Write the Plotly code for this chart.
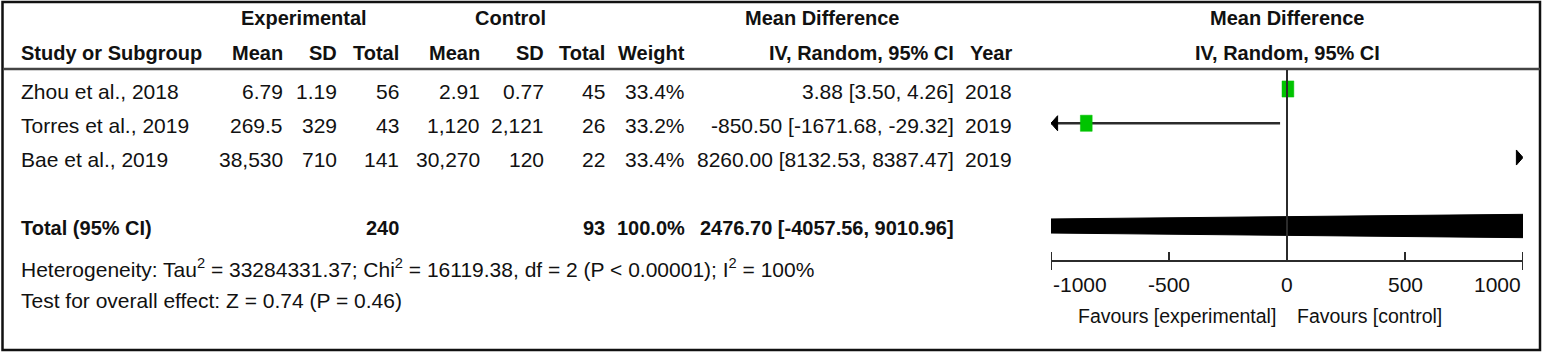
import plotly.graph_objects as go

# ---------------- data ----------------
studies = ["Zhou et al., 2018", "Torres et al., 2019", "Bae et al., 2019"]
exp_mean = ["6.79", "269.5", "38,530"]
exp_sd = ["1.19", "329", "710"]
exp_n = [56, 43, 141]
ctl_mean = ["2.91", "1,120", "30,270"]
ctl_sd = ["0.77", "2,121", "120"]
ctl_n = [45, 26, 22]
weights = [33.4, 33.2, 33.4]
md = [3.88, -850.50, 8260.00]
ci_lo = [3.50, -1671.68, 8132.53]
ci_hi = [4.26, -29.32, 8387.47]
years = [2018, 2019, 2019]

total_exp = 240
total_ctl = 93
total_weight = 100.0
total_md = 2476.70
total_lo = -4057.56
total_hi = 9010.96

heterogeneity = ("Heterogeneity: Tau<sup>2</sup> = 33284331.37; Chi<sup>2</sup> = 16119.38, "
                 "df = 2 (P < 0.00001); I<sup>2</sup> = 100%")
overall_effect = "Test for overall effect: Z = 0.74 (P = 0.46)"

x_ticks = [-1000, -500, 0, 500, 1000]
x_tick_labels = ["-1000", "-500", "0", "500", "1000"]
favours_left = "Favours [experimental]"
favours_right = "Favours [control]"

# ---------------- layout constants ----------------
W, H = 1544, 353
FONT = "Liberation Sans, Arial, sans-serif"
FS = 21          # regular text
BS = 20          # bold text
XMIN, XMAX = x_ticks[0], x_ticks[-1]
PLOT_L, PLOT_R = 1051, 1523          # pixel extent of forest axis
ROW0, ROWH = 89, 34.25               # pixel of first study row, row spacing
TOTAL_ROW = 4
TOP_PX, AXIS_PX = 70, 260
GREEN = "#00c400"
LINE = "#2b2b2b"


def px(x):
    return x / W


def py(y):
    return 1 - y / H


def row_of(pix):
    return (pix - ROW0) / ROWH


fig = go.Figure()

# ---------------- forest plot marks ----------------
sq_hw = 25.0     # half width of weight square (data units)
sq_hh = 0.235    # half height (rows)
arr_w = 28.0
arr_h = 0.22
for i in range(len(studies)):
    lo = max(ci_lo[i], XMIN)
    hi = min(ci_hi[i], XMAX)
    if lo < hi:
        fig.add_trace(go.Scatter(x=[lo, hi], y=[i, i], mode="lines",
                                 line=dict(color=LINE, width=2.5), hoverinfo="skip"))
    if ci_lo[i] < XMIN:
        fig.add_trace(go.Scatter(x=[XMIN, XMIN + arr_w, XMIN + arr_w, XMIN],
                                 y=[i, i - arr_h, i + arr_h, i], mode="lines",
                                 fill="toself", fillcolor="black",
                                 line=dict(color="black", width=1), hoverinfo="skip"))
    if ci_hi[i] > XMAX:
        fig.add_trace(go.Scatter(x=[XMAX, XMAX - arr_w, XMAX - arr_w, XMAX],
                                 y=[i, i - arr_h, i + arr_h, i], mode="lines",
                                 fill="toself", fillcolor="black",
                                 line=dict(color="black", width=1), hoverinfo="skip"))
    if XMIN <= md[i] <= XMAX:
        fig.add_trace(go.Scatter(x=[md[i] - sq_hw, md[i] + sq_hw, md[i] + sq_hw, md[i] - sq_hw, md[i] - sq_hw],
                                 y=[i - sq_hh, i - sq_hh, i + sq_hh, i + sq_hh, i - sq_hh],
                                 mode="lines", fill="toself", fillcolor=GREEN,
                                 line=dict(color=GREEN, width=0.5), hoverinfo="skip"))

# total diamond (clipped by axis range)
dh = 0.44
fig.add_trace(go.Scatter(x=[total_lo, total_md, total_hi, total_md, total_lo],
                         y=[TOTAL_ROW, TOTAL_ROW - dh, TOTAL_ROW, TOTAL_ROW + dh, TOTAL_ROW],
                         mode="lines", fill="toself", fillcolor="black",
                         line=dict(color="black", width=1), hoverinfo="skip"))

# ---------------- annotations (table text) ----------------
ann = []


def txt(s, x, y, anchor="right", bold=False, size=None, xref="paper", xshift=0):
    if size is None:
        size = BS if bold else FS
    ann.append(dict(text=("<b>%s</b>" % s) if bold else s, x=x if xref != "paper" else px(x),
                    y=py(y), xref=xref, yref="paper", xanchor=anchor, yanchor="middle",
                    showarrow=False, xshift=xshift,
                    font=dict(family=FONT, size=size, color="#111111")))


H1, H2 = 18, 53
txt("Experimental", 304, H1, "center", True)
txt("Control", 510, H1, "center", True)
txt("Mean Difference", 822, H1, "center", True)
txt("Mean Difference", (PLOT_L + PLOT_R) / 2, H1, "center", True)

cols = [285, 339, 401, 482, 546, 607, 687, 956, 1014]
txt("Study or Subgroup", 19, H2, "left", True)
for c, h in zip(cols, ["Mean", "SD", "Total", "Mean", "SD", "Total", "Weight",
                       "IV, Random, 95% CI", "Year"]):
    txt(h, c, H2, "right", True)
txt("IV, Random, 95% CI", (PLOT_L + PLOT_R) / 2, H2, "center", True)

for i in range(len(studies)):
    y = ROW0 + ROWH * i + 2
    txt(studies[i], 19, y, "left")
    vals = [exp_mean[i], exp_sd[i], str(exp_n[i]), ctl_mean[i], ctl_sd[i], str(ctl_n[i]),
            "%.1f%%" % weights[i], "%.2f [%.2f, %.2f]" % (md[i], ci_lo[i], ci_hi[i]), str(years[i])]
    for c, v in zip(cols, vals):
        txt(v, c, y, "right")

yt = ROW0 + ROWH * TOTAL_ROW + 2
txt("Total (95% CI)", 19, yt, "left", True)
txt(str(total_exp), cols[2], yt, "right", True)
txt(str(total_ctl), cols[5], yt, "right", True)
txt("%.1f%%" % total_weight, cols[6], yt, "right", True)
txt("%.2f [%.2f, %.2f]" % (total_md, total_lo, total_hi), cols[7], yt, "right", True)
txt(heterogeneity, 19, 268, "left")
txt(overall_effect, 19, 300, "left")

# tick labels
for k, (v, lab) in enumerate(zip(x_ticks, x_tick_labels)):
    anchor = "left" if k == 0 else ("right" if k == len(x_ticks) - 1 else "center")
    txt(lab, v, 284, anchor, xref="x")
txt(favours_left, 0, 316, "right", xref="x", xshift=-9, size=19.5)
txt(favours_right, 0, 316, "left", xref="x", xshift=8, size=19.5)

# ---------------- shapes ----------------
shapes = [
    dict(type="rect", xref="paper", yref="paper", x0=px(2.5), x1=px(1540), y0=py(2), y1=py(350),
         line=dict(color="#111111", width=2.5)),
    dict(type="line", xref="paper", yref="paper", x0=px(3), x1=px(1540), y0=py(69), y1=py(69),
         line=dict(color="#444444", width=2.5)),
    dict(type="line", xref="x", yref="y domain", x0=0, x1=0, y0=0, y1=1,
         line=dict(color=LINE, width=2)),
]
for v in (x_ticks[0], x_ticks[-1]):
    shapes.append(dict(type="line", xref="x", yref="paper", x0=v, x1=v, y0=py(252), y1=py(270),
                       line=dict(color=LINE, width=2)))

fig.update_layout(
    width=W, height=H, autosize=False,
    margin=dict(l=0, r=0, t=0, b=0),
    paper_bgcolor="white", plot_bgcolor="white",
    showlegend=False,
    annotations=ann, shapes=shapes,
    xaxis=dict(domain=[px(PLOT_L), px(PLOT_R)], range=[XMIN, XMAX], showgrid=False,
               zeroline=False, showline=True, linecolor=LINE, linewidth=2,
               ticks="inside", ticklen=8, tickwidth=2, tickcolor=LINE,
               tickvals=x_ticks, showticklabels=False, fixedrange=True),
    yaxis=dict(domain=[py(AXIS_PX), py(TOP_PX)], range=[row_of(AXIS_PX), row_of(TOP_PX)],
               visible=False, showgrid=False, zeroline=False, fixedrange=True),
)

fig.write_html("out.html", config={"displayModeBar": False},
               post_script="document.body.style.margin='0';")
